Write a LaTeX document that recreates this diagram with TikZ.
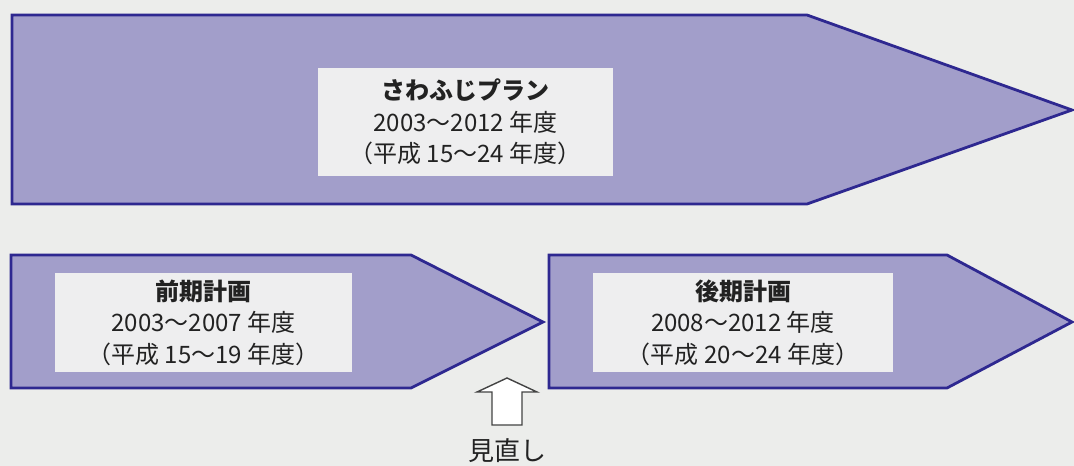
\documentclass[tikz,border=0pt]{standalone}
\usepackage{fontspec}
\newfontfamily\cjk{Noto Sans CJK JP}
\definecolor{bgc}{HTML}{ECEDEB}
\definecolor{fillc}{HTML}{A29ECA}
\definecolor{linec}{HTML}{2E2890}
\definecolor{boxc}{HTML}{EEEEEF}
\definecolor{txtc}{HTML}{222222}
\tikzset{
  planarrow/.style={draw=linec, line width=2.8pt, fill=fillc, line join=miter},
  labelbox/.style={fill=boxc, draw=none, inner sep=0pt, text=txtc, align=center,
    font=\cjk\fontsize{24}{31.5}\selectfont},
  uparrow/.style={draw=txtc!85, line width=1.4pt, fill=white, line join=miter},
}
\begin{document}
\begin{tikzpicture}[x=1pt,y=-1pt]
\fill[bgc] (0,0) rectangle (1074,466);
\useasboundingbox (0,0) rectangle (1074,466);
% top arrow
\draw[planarrow] (12,15) -- (807,15) -- (1072,110) -- (807,204) -- (12,204) -- cycle;
\node[labelbox, minimum width=295pt, minimum height=108pt] (plan) at (465.5,122)
  {{\bfseries さわふじプラン}\\2003〜2012 年度\\（平成 15〜24 年度）};
% lower left
\draw[planarrow] (11,255) -- (411,255) -- (543,322) -- (411,388) -- (11,388) -- cycle;
\node[labelbox, minimum width=297pt, minimum height=99pt] (early) at (203.5,322.5)
  {{\bfseries 前期計画}\\2003〜2007 年度\\（平成 15〜19 年度）};
% lower right
\draw[planarrow] (549,255) -- (947,255) -- (1072,322) -- (947,388) -- (549,388) -- cycle;
\node[labelbox, minimum width=300pt, minimum height=99pt] (late) at (743,322.5)
  {{\bfseries 後期計画}\\2008〜2012 年度\\（平成 20〜24 年度）};
% review arrow
\draw[uparrow] (507,378) -- (537,392) -- (522,392) -- (522,425) -- (492,425) -- (492,392) -- (477,392) -- cycle;
\node[font=\cjk\fontsize{26}{30}\selectfont, text=txtc] (review) at (507,451) {見直し};
\end{tikzpicture}
\end{document}
